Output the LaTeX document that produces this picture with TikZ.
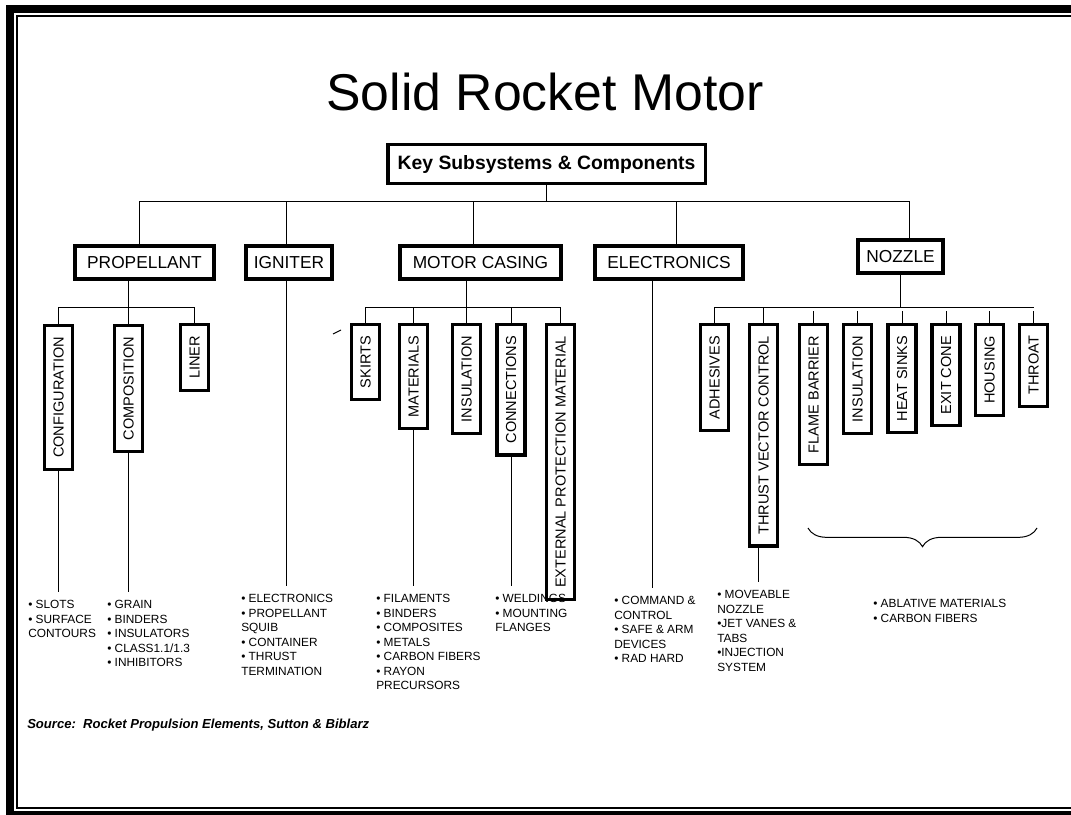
\documentclass[tikz,border=0pt]{standalone}
\usepackage{fontspec}
\setmainfont{Liberation Sans}
\usetikzlibrary{calc,decorations.pathreplacing}
\tikzset{
 wire/.style={line width=0.75pt},
 keybox/.style={draw,line width=2.5pt,minimum width=238pt,minimum height=29pt,inner sep=0pt,font=\fontsize{14.5}{16}\selectfont\bfseries},
 subsys/.style={draw,line width=3pt,minimum height=24.75pt,inner sep=0pt,font=\fontsize{13}{15}\selectfont},
 part/.style={draw,line width=2.4pt,rotate=90,anchor=east,minimum height=21pt,inner xsep=8.6pt,inner ysep=0pt,font=\fontsize{10.9}{12}\selectfont},
 items/.style={anchor=north west,align=left,inner sep=0pt,font=\fontsize{8.9}{10.9}\selectfont}
}
\begin{document}
\begin{tikzpicture}[x=0.75pt,y=-0.75pt]
\useasboundingbox(0,0)rectangle(1071,814);
\draw[line width=6pt](10,9)rectangle(1100,815);\draw[line width=1.5pt](17,16)rectangle(1100,808);
\node(title)at(545,92){\fontsize{38.8}{40}\selectfont Solid Rocket Motor};
\node[keybox](key)at(546.5,164){Key Subsystems \& Components};
\node[subsys,minimum width=104pt](prop)at(144.5,262.5){PROPELLANT};
\node[subsys,minimum width=64.5pt](ign)at(289,262.5){IGNITER};
\node[subsys,minimum width=120.75pt](mc)at(480.5,262.5){MOTOR CASING};
\node[subsys,minimum width=111pt](elec)at(669,262.5){ELECTRONICS};
\node[subsys,minimum width=63.75pt](noz)at(900.5,256.5){NOZZLE};
\coordinate(bus)at(0,201);\coordinate(sub)at(0,307);
\draw[wire]([xshift=-4pt]prop.north)--([xshift=-4pt]prop.north|-bus)--([xshift=7pt]noz.north|-bus)--([xshift=7pt]noz.north);
\draw[wire](key.south)--(key.south|-bus);
\draw[wire]([xshift=-2.25pt]ign.north)--([xshift=-2.25pt]ign.north|-bus);
\draw[wire]([xshift=-5.6pt]mc.north)--([xshift=-5.6pt]mc.north|-bus);
\draw[wire]([xshift=5.25pt]elec.north)--([xshift=5.25pt]elec.north|-bus);
\node[part](conf)at(58.5,324){CONFIGURATION};
\node[part](comp)at(128.5,324){COMPOSITION};
\node[part](liner)at(194.5,323){LINER};
\node[part](skirts)at(365.5,323){SKIRTS};
\node[part](mat)at(413.5,323){MATERIALS};
\node[part](ins1)at(466.5,323){INSULATION};
\node[part](conn)at(511,323){CONNECTIONS};
\node[part](ext)at(560.5,323){EXTERNAL PROTECTION MATERIAL};
\node[part](adh)at(714.5,323){ADHESIVES};
\node[part](tvc)at(763.5,323){THRUST VECTOR CONTROL};
\node[part](fb)at(813.5,323){FLAME BARRIER};
\node[part](ins2)at(857.5,323){INSULATION};
\node[part](hs)at(902,323){HEAT SINKS};
\node[part](ec)at(946,323){EXIT CONE};
\node[part](hous)at(989.5,323){HOUSING};
\node[part](thr)at(1033.5,323){THROAT};
\draw[wire](conf.east)--(conf.east|-sub)--(liner.east|-sub)--(liner.east);\draw[wire](comp.east)--(comp.east|-prop.south);
\draw[wire](skirts.east)--(skirts.east|-sub)--(ext.east|-sub)--(ext.east);\draw[wire](ins1.east)--(ins1.east|-mc.south);
\foreach\p in{mat,conn}\draw[wire](\p.east)--(\p.east|-sub);
\draw[wire](adh.east)--(adh.east|-sub)--(thr.east|-sub);\draw[wire](noz.south)--(noz.south|-sub);\draw[wire](tvc.east)--(tvc.east|-sub);
\foreach\p in{fb,ins2,hs,ec,hous,thr}\draw[wire,shorten >=3pt](\p.east)--(\p.east|-sub);
\draw[wire](333,334)--(341,330);
\node[items](slots)at(28,600){• SLOTS\\• SURFACE\\CONTOURS};
\node[items](grain)at(107,600){• GRAIN\\• BINDERS\\• INSULATORS\\• CLASS1.1/1.3\\• INHIBITORS};
\node[items](igl)at(241,594){• ELECTRONICS\\• PROPELLANT\\SQUIB\\• CONTAINER\\• THRUST\\TERMINATION};
\node[items](matl)at(376,594){• FILAMENTS\\• BINDERS\\• COMPOSITES\\• METALS\\• CARBON FIBERS\\• RAYON\\PRECURSORS};
\node[items](connl)at(495,594){• WELDINGS\\• MOUNTING\\FLANGES};
\node[items](elecl)at(614,596){• COMMAND \&\\CONTROL\\• SAFE \& ARM\\DEVICES\\• RAD HARD};
\node[items](tvcl)at(717,590){• MOVEABLE\\NOZZLE\\•JET VANES \&\\TABS\\•INJECTION\\SYSTEM};
\node[items](abl)at(873,599){• ABLATIVE MATERIALS\\• CARBON FIBERS};
\draw[wire,shorten >=6pt](conf.west)--(conf.west|-slots.north);\draw[wire,shorten >=6pt](comp.west)--(comp.west|-grain.north);
\draw[wire,shorten >=6pt]([xshift=-2.25pt]ign.south)--([xshift=-2.25pt]ign.south|-igl.north);
\draw[wire,shorten >=6pt](mat.west)--(mat.west|-matl.north);\draw[wire,shorten >=6pt](conn.west)--(conn.west|-connl.north);
\draw[wire,shorten >=6pt]([xshift=-12.75pt]elec.south)--([xshift=-12.75pt]elec.south|-elecl.north);
\draw[wire,shorten >=6pt]([xshift=-4pt]tvc.west)--([xshift=-4pt]tvc.west|-tvcl.north);
\draw[wire,decorate,decoration={brace,amplitude=14pt}](1037,528)--(808,528);
\node[anchor=west,inner sep=0pt,font=\fontsize{9.8}{11}\selectfont\bfseries\itshape](src)at(27,725){Source:\ \ Rocket Propulsion Elements, Sutton \& Biblarz};
\end{tikzpicture}
\end{document}
